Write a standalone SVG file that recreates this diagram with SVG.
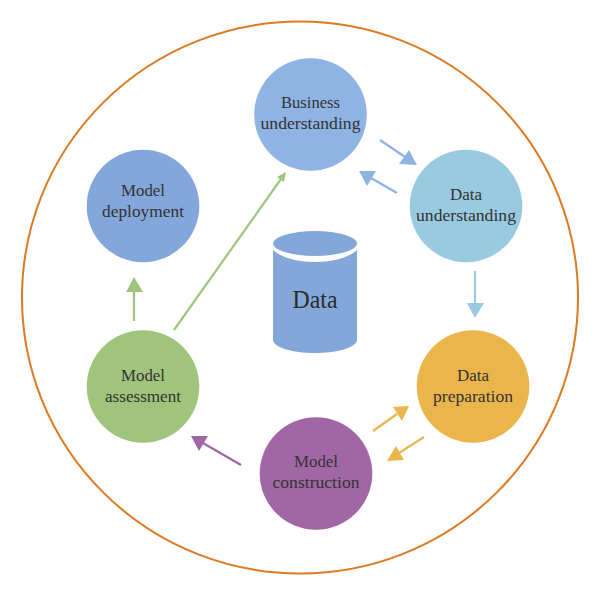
<svg xmlns="http://www.w3.org/2000/svg" width="600" height="596" viewBox="0 0 600 596">
<style>
text{font-family:"Liberation Serif","Times New Roman",serif;font-size:16.5px;fill:#333;text-anchor:middle}
.a{fill:none;stroke-width:2.2}
.big{font-size:25px;fill:#2b2b2b}
</style>
<rect width="600" height="596" fill="#fff"/>
<ellipse id="boundary" cx="300" cy="297.500" rx="278" ry="276" fill="none" stroke="#DD7A22" stroke-width="2"/>
<g id="connectors">
<path class="a" stroke="#8FB4E3" d="M380 140L405 157"/><polygon fill="#8FB4E3" points="417,165 409,150 399,164"/>
<path class="a" stroke="#8FB4E3" d="M397 193L371 178"/><polygon fill="#8FB4E3" points="359,171 376,171 367,186"/>
<path class="a" stroke="#99CADF" d="M475 271V304"/><polygon fill="#99CADF" points="475,318 467,303 484,303"/>
<path class="a" stroke="#EAB64B" d="M373 431L397 414"/><polygon fill="#EAB64B" points="409,406 393,407 402,421"/>
<path class="a" stroke="#EAB64B" d="M424 437L399 453"/><polygon fill="#EAB64B" points="387,461 396,446 404,460"/>
<path class="a" stroke="#A167A5" d="M241 465L203 443"/><polygon fill="#A167A5" points="191,436 208,436 199,451"/>
<path class="a" stroke="#A0C47C" d="M134 321V291"/><polygon fill="#A0C47C" points="134,277 126,292 143,292"/>
<path class="a" stroke="#A0C47C" d="M174 330L281 179"/><polygon fill="#A0C47C" points="286,172 277,177 284,182"/>
</g>
<g id="data-store">
<path fill="#83A7D9" d="M273 250C282 258 297 262 315 262C333 262 348 258 357 250V340C357 347 338 353 315 353C292 353 273 347 273 340Z"/>
<ellipse cx="315" cy="243.500" rx="42" ry="12.500" fill="#83A7D9"/>
<text class="big" x="315" y="308" textLength="45" lengthAdjust="spacingAndGlyphs">Data</text>
</g>
<g id="business-understanding">
<circle cx="310.500" cy="114.500" r="56.300" fill="#8FB4E3"/>
<text x="310.500" y="108" textLength="59" lengthAdjust="spacingAndGlyphs">Business</text>
<text x="310.500" y="129" textLength="100" lengthAdjust="spacingAndGlyphs">understanding</text>
</g>
<g id="data-understanding">
<circle cx="466" cy="206" r="56.300" fill="#99CADF"/>
<text x="466" y="200" textLength="32" lengthAdjust="spacingAndGlyphs">Data</text>
<text x="466" y="221" textLength="100" lengthAdjust="spacingAndGlyphs">understanding</text>
</g>
<g id="data-preparation">
<circle cx="473" cy="386.500" r="56.300" fill="#EAB64B"/>
<text x="473" y="381" textLength="32" lengthAdjust="spacingAndGlyphs">Data</text>
<text x="473" y="402" textLength="80" lengthAdjust="spacingAndGlyphs">preparation</text>
</g>
<g id="model-construction">
<circle cx="316" cy="473.500" r="56.300" fill="#A167A5"/>
<text x="316" y="467" textLength="44" lengthAdjust="spacingAndGlyphs">Model</text>
<text x="316" y="488" textLength="87" lengthAdjust="spacingAndGlyphs">construction</text>
</g>
<g id="model-assessment">
<circle cx="143" cy="386.500" r="56.300" fill="#A0C47C"/>
<text x="143" y="381" textLength="44" lengthAdjust="spacingAndGlyphs">Model</text>
<text x="143" y="402" textLength="76" lengthAdjust="spacingAndGlyphs">assessment</text>
</g>
<g id="model-deployment">
<circle cx="143" cy="206" r="56.300" fill="#83A7DA"/>
<text x="143" y="196" textLength="44" lengthAdjust="spacingAndGlyphs">Model</text>
<text x="143" y="217" textLength="82" lengthAdjust="spacingAndGlyphs">deployment</text>
</g>
</svg>
